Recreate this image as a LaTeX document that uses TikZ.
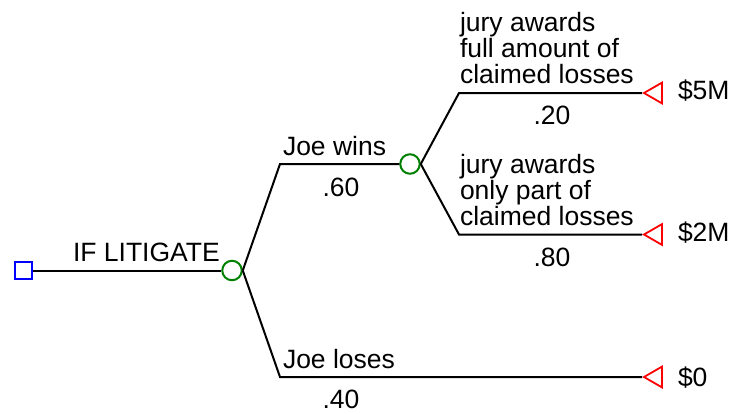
\documentclass[tikz,border=0pt]{standalone}
\usepackage{fontspec}
\setmainfont{Liberation Sans}
\usetikzlibrary{shapes.geometric}
\definecolor{chancegreen}{RGB}{0,128,0}

\tikzset{
    decision node/.style={rectangle,draw=blue,line width=2pt,minimum size=17pt,inner sep=0},
    chance node/.style={circle,draw=chancegreen,line width=2pt,minimum size=19.5pt,inner sep=0},
    end node/.style={regular polygon,regular polygon sides=3,shape border rotate=90,draw=red,line width=1.8pt,minimum size=24pt,inner sep=0},
    lbl/.style={inner sep=0}
    }

\begin{document}
\begin{tikzpicture}[x=1pt,y=-1pt,font=\fontsize{26.5}{26}\selectfont,line width=2pt]
                \useasboundingbox (0,0) rectangle (731,413);
                % decision and chance nodes
                \node(0)[decision node] at (23,270.5){};
                \node(1)[chance node] at (232,270.5){};
                \node(2)[chance node] at (410,164){};
                % end nodes
                \node(3)[end node] at (656,93){};
                \node(4)[end node] at (656,234.5){};
                \node(5)[end node] at (656,377){};
                \coordinate(b1) at (280,164);
                \coordinate(b2) at (280,377);
                \coordinate(b3) at (459,93);
                \coordinate(b4) at (459,234.5);
                % branches
                \draw (0) -- (1);
                \draw (1.east) -- (b1) -- (2);
                \draw (1.east) -- (b2) -- (5);
                \draw (2.east) -- (b3) -- (3);
                \draw (2.east) -- (b4) -- (4);
                % labels
                \node(l0)[lbl,anchor=base west] at (72,261){IF LITIGATE};
                \node(l1)[lbl,anchor=base west] at (282,155){Joe wins};
                \node(p1)[lbl,anchor=base] at (341,196){.60};
                \node(l2)[lbl,anchor=base west] at (282,368){Joe loses};
                \node(p2)[lbl,anchor=base] at (341,408){.40};
                \node(l3)[lbl,anchor=base west,align=left] at (459,83){jury awards\\full amount of\\claimed losses};
                \node(p3)[lbl,anchor=base] at (552,124){.20};
                \node(l4)[lbl,anchor=base west,align=left] at (459,225){jury awards\\only part of\\claimed losses};
                \node(p4)[lbl,anchor=base] at (552,266){.80};
                \node(v3)[lbl,anchor=base west] at (677,99){\$5M};
                \node(v4)[lbl,anchor=base west] at (677,241){\$2M};
                \node(v5)[lbl,anchor=base west] at (677,386){\$0};
            \end{tikzpicture}
\end{document}
